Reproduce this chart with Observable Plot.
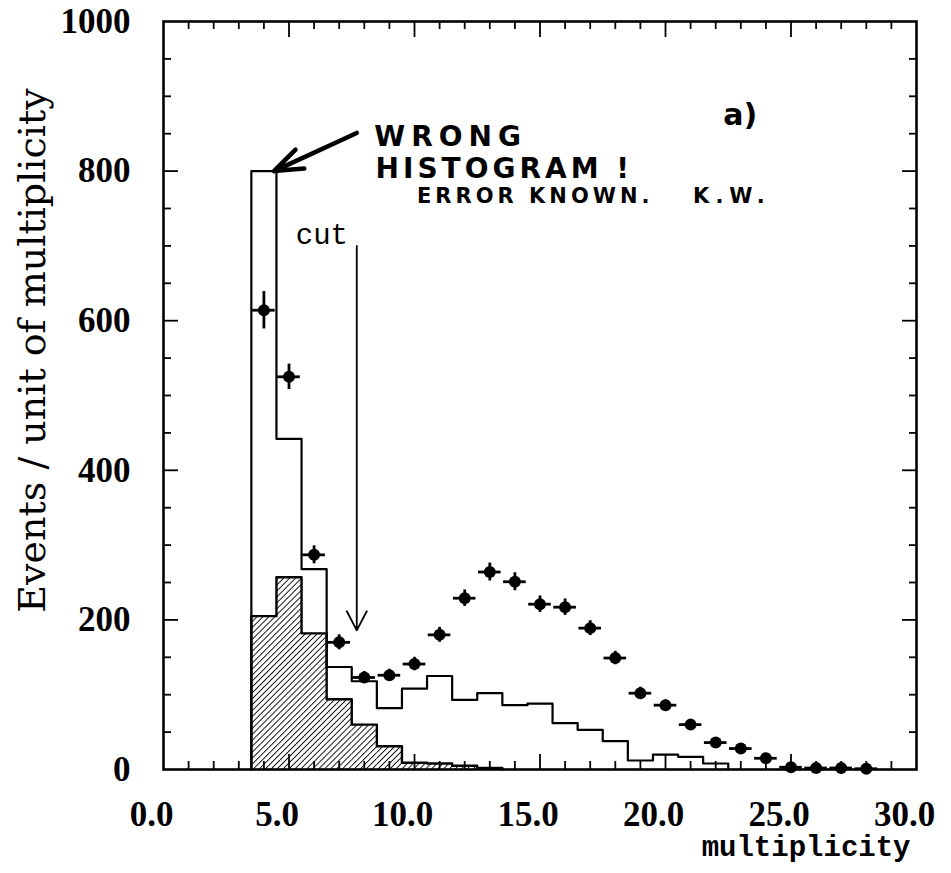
<!DOCTYPE html>
<html>
<head>
<meta charset="utf-8">
<script src="https://cdn.jsdelivr.net/npm/d3@7"></script>
<script src="https://cdn.jsdelivr.net/npm/@observablehq/plot@0.6"></script>
<style>
  html, body { margin: 0; padding: 0; background: #fff; }
  #chart svg { display: block; background: #fff; }
</style>
</head>
<body>
<div id="chart"></div>
<script>
// ---------- data ----------
// open histogram: bin centres and heights
const openBins   = [4, 5, 6, 7, 8, 9, 10, 11, 12, 13, 14, 15, 16, 17, 18, 19, 20, 21, 22];
const openCounts = [800, 442, 268, 137, 118, 82, 108, 125, 93, 102, 86, 88, 62, 53, 38, 12, 20, 17, 8];
// hatched histogram
const hatchBins   = [4, 5, 6, 7, 8, 9, 10, 11, 12, 13];
const hatchCounts = [205, 257, 182, 94, 60, 31, 9, 8, 5, 2];
// data points with errors
const pointX   = [4, 5, 6, 7, 8, 9, 10, 11, 12, 13, 14, 15, 16, 17, 18, 19, 20, 21, 22, 23, 24, 25, 26, 27, 28];
const pointY   = [614, 525, 287, 170, 123, 126, 141, 180, 229, 264, 251, 221, 217, 189, 149, 102, 86, 60, 36, 28, 15, 3, 2, 2, 1];
const pointErr = [25, 17, 12, 10, 8, 8, 9, 10, 11, 12, 12, 11, 11, 10, 9, 8, 7, 6, 5, 4, 3, 2, 2, 2, 1];
// axis ticks
const xLabels = [0, 5, 10, 15, 20, 25, 30];
const xMajor  = [5, 10, 15, 20, 25];
const xMinor  = [1, 2, 3, 4, 6, 7, 8, 9, 11, 12, 13, 14, 16, 17, 18, 19, 21, 22, 23, 24, 26, 27, 28, 29];
const yLabels = [0, 200, 400, 600, 800, 1000];
const yMajor  = [200, 400, 600, 800];
const yMinor  = [50, 100, 150, 250, 300, 350, 450, 500, 550, 650, 700, 750, 850, 900, 950];
const xTitle = ["multiplicity"];
const yTitle = ["Events / unit of multiplicity"];
// annotations
const cutArrow   = [{x: 7.7, y1: 700, y2: 186}];
const cutLabel   = [{x: 7.35, y: 703, text: "cut"}];
const noteArrow  = [{x1: 7.7, y1: 851, x2: 4.4, y2: 800}];
const noteLines  = [
  {x: 8.4, y: 833, text: "WRONG", size: 28},
  {x: 8.45, y: 791, text: "HISTOGRAM !", size: 28},
  {x: 10.1, y: 757, text: "ERROR KNOWN.", size: 21},
  {x: 21.1, y: 757, text: "K.W.", size: 21}
];
const panelLabel = [{x: 22.3, y: 862, text: "a)"}];

// ---------- derived tables ----------
function stepPoints(bins, counts) {
  const pts = [{x: bins[0] - 0.5, y: 0}];
  bins.forEach((b, i) => pts.push({x: b - 0.5, y: counts[i]}));
  pts.push({x: bins[bins.length - 1] + 0.5, y: 0});
  return pts;
}
const openStep  = stepPoints(openBins, openCounts);
const hatchStep = stepPoints(hatchBins, hatchCounts);
const hatchRects = hatchBins.map((b, i) => ({x1: b - 0.5, x2: b + 0.5, y: hatchCounts[i]}));
const points = pointX.map((x, i) => ({x, y: pointY[i], e: pointErr[i]}));

// ---------- layout ----------
const W = 951, H = 873;
const mL = 163, mR = 35, mT = 21, mB = 104;
const frameH = H - mT - mB, frameW = W - mL - mR;

const serifBold = "Liberation Serif";
const monoFont = "Liberation Mono";

const patternMark = () => {
  const ns = "http://www.w3.org/2000/svg";
  const defs = document.createElementNS(ns, "defs");
  defs.innerHTML = `<pattern id="hatch" patternUnits="userSpaceOnUse" width="4.2" height="4.2" patternTransform="rotate(45)">
      <rect width="4.2" height="4.2" fill="white"/>
      <line x1="0" y1="0" x2="0" y2="4.2" stroke="black" stroke-width="1.8"/>
    </pattern>`;
  return defs;
};

const chart = Plot.plot({
  width: W,
  height: H,
  marginLeft: mL,
  marginRight: mR,
  marginTop: mT,
  marginBottom: mB,
  x: {domain: [0, 30]},
  y: {domain: [0, 1000]},
  marks: [
    patternMark,
    // hatched histogram
    Plot.rectY(hatchRects, {x1: "x1", x2: "x2", y: "y", fill: "url(#hatch)", inset: 0}),
    Plot.line(hatchStep, {x: "x", y: "y", curve: "step-after", stroke: "black", strokeWidth: 2.4}),
    // open histogram
    Plot.line(openStep, {x: "x", y: "y", curve: "step-after", stroke: "black", strokeWidth: 2.2}),
    // data points with error bars
    Plot.ruleX(points, {x: "x", y1: d => d.y - d.e, y2: d => d.y + d.e, stroke: "black", strokeWidth: 2.8}),
    Plot.ruleY(points, {y: "y", x1: d => d.x - 0.45, x2: d => d.x + 0.45, stroke: "black", strokeWidth: 2.8}),
    Plot.dot(points, {x: "x", y: "y", r: 6, fill: "black", stroke: "none"}),
    // cut arrow
    Plot.arrow(cutArrow, {x1: "x", x2: "x", y1: "y1", y2: "y2", stroke: "black", strokeWidth: 1.8, headLength: 18, headAngle: 55}),
    Plot.text(cutLabel, {x: "x", y: "y", text: "text", textAnchor: "end", lineAnchor: "bottom", fontFamily: monoFont, fontSize: 29, fill: "black"}),
    // handwritten note
    Plot.arrow(noteArrow, {x1: "x1", y1: "y1", x2: "x2", y2: "y2", stroke: "black", strokeWidth: 4.5, headLength: 20, headAngle: 40}),
    Plot.text(noteLines, {x: "x", y: "y", text: "text", fontSize: d => d.size, textAnchor: "start", lineAnchor: "bottom", fontFamily: "DejaVu Sans", fontWeight: "bold", fill: "black"}),
    Plot.text(panelLabel, {x: "x", y: "y", text: "text", textAnchor: "start", lineAnchor: "bottom", fontFamily: "DejaVu Sans", fontWeight: "bold", fontSize: 30, fill: "black"}),
    // inward ticks: bottom & top
    Plot.ruleX(xMinor, {x: d => d, insetTop: frameH - 8, stroke: "black", strokeWidth: 1.8}),
    Plot.ruleX(xMajor, {x: d => d, insetTop: frameH - 15, stroke: "black", strokeWidth: 1.8}),
    Plot.ruleX(xMinor, {x: d => d, insetBottom: frameH - 8, stroke: "black", strokeWidth: 1.8}),
    Plot.ruleX(xMajor, {x: d => d, insetBottom: frameH - 16, stroke: "black", strokeWidth: 1.8}),
    // inward ticks: left & right
    Plot.ruleY(yMinor, {y: d => d, insetRight: frameW - 8, stroke: "black", strokeWidth: 1.8}),
    Plot.ruleY(yMajor, {y: d => d, insetRight: frameW - 15, stroke: "black", strokeWidth: 1.8}),
    Plot.ruleY(yMinor, {y: d => d, insetLeft: frameW - 7, stroke: "black", strokeWidth: 1.8}),
    Plot.ruleY(yMajor, {y: d => d, insetLeft: frameW - 14, stroke: "black", strokeWidth: 1.8}),
    Plot.frame({stroke: "black", strokeWidth: 2.6}),
    // axes (tick labels)
    Plot.axisX({ticks: xLabels, tickSize: 0, tickPadding: 32, dx: -12, tickFormat: d3.format(".1f"),
      fontFamily: serifBold, fontWeight: "bold", fontSize: 35, fill: "black", label: null}),
    Plot.axisY({ticks: yLabels, tickSize: 0, tickPadding: 33, tickFormat: d => String(d),
      fontFamily: serifBold, fontWeight: "bold", fontSize: 35, fill: "black", label: null}),
    // axis titles
    Plot.text(xTitle, {text: d => d, frameAnchor: "bottom-right", textAnchor: "end", lineAnchor: "top",
      dx: -6, dy: 66, fontFamily: monoFont, fontWeight: "bold", fontSize: 29, fill: "black"}),
    Plot.text(yTitle, {text: d => d, frameAnchor: "left", textAnchor: "middle", lineAnchor: "top", rotate: -90,
      dx: -145, dy: -45, fontFamily: "DejaVu Serif", fontSize: 38, fill: "black"})
  ]
});

// letter spacing for the handwritten-style note
chart.querySelectorAll("text").forEach(t => {
  const s = t.textContent;
  if (s === "WRONG") t.setAttribute("letter-spacing", "6");
  if (s === "HISTOGRAM !") t.setAttribute("letter-spacing", "4");
  if (s === "ERROR KNOWN.") t.setAttribute("letter-spacing", "4");
  if (s === "K.W.") t.setAttribute("letter-spacing", "6");
});

document.getElementById("chart").appendChild(chart);
</script>
</body>
</html>
